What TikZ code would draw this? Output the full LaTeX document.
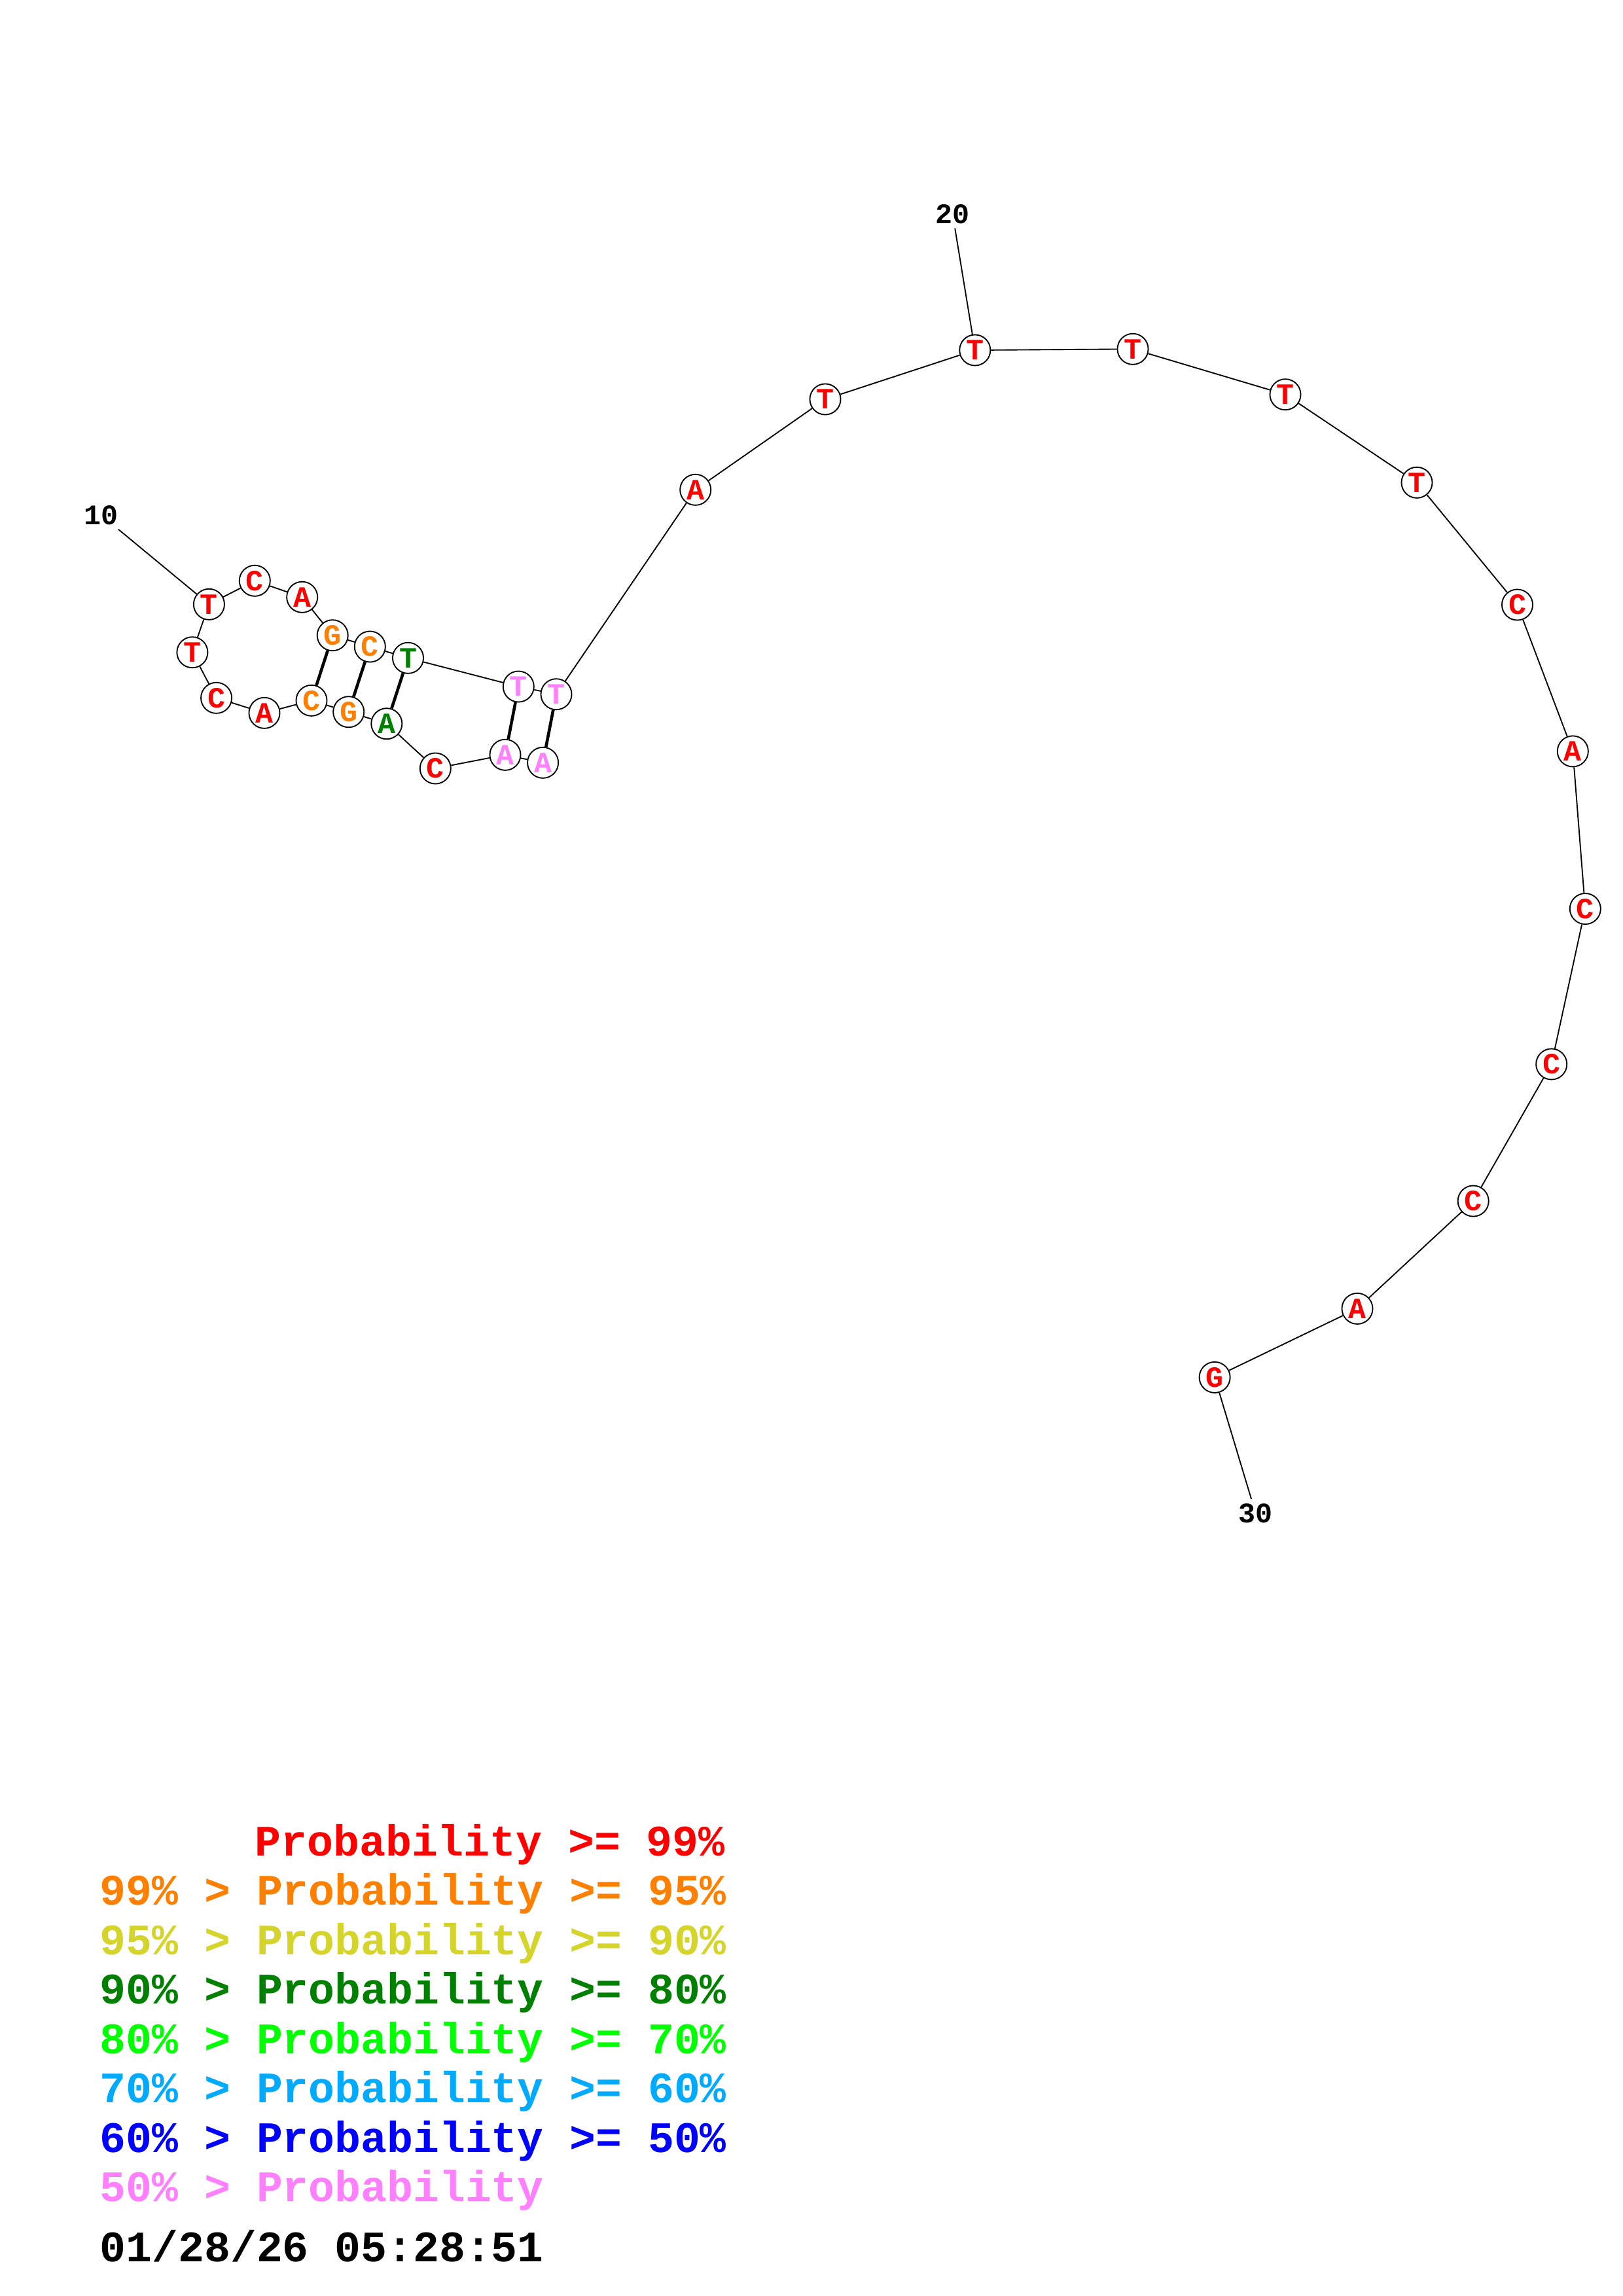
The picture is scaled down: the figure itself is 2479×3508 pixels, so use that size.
\documentclass[tikz,border=0pt]{standalone}
\usepackage{fontspec}
\setmonofont{Liberation Mono}
\usetikzlibrary{positioning}
\usepackage{xcolor}
\definecolor{probA}{RGB}{255, 0, 0}
\definecolor{probB}{RGB}{255, 128, 0}
\definecolor{probC}{RGB}{212, 212, 42}
\definecolor{probD}{RGB}{0, 128, 0}
\definecolor{probE}{RGB}{0, 255, 0}
\definecolor{probF}{RGB}{0, 170, 255}
\definecolor{probG}{RGB}{0, 0, 255}
\definecolor{probH}{RGB}{255, 128, 255}

\begin{document}
\begin{tikzpicture}[x=0.24bp, y=-0.24bp,
  base/.style={draw, circle, fill=white, line width=0.45bp, minimum size=11.3bp, inner sep=0pt, font=\fontsize{10.8bp}{10.8bp}\ttfamily\bfseries},
  hi/.style={base, text=probA},
  mid/.style={base, text=probB},
  fair/.style={base, text=probD},
  low/.style={base, text=probH},
  numlab/.style={inner sep=1.5bp, font=\fontsize{10.4bp}{12bp}\ttfamily\bfseries},
  legend/.style={anchor=base west, inner sep=0pt, font=\fontsize{15.95bp}{18bp}\ttfamily\bfseries},
  bond/.style={line width=0.45bp},
  pair/.style={line width=1.1bp}]
\fill[white] (0,0) rectangle (2479,3508);
\useasboundingbox (0,0) rectangle (2479,3508);

% hairpin on the left
\node[low]  (n1)  at (829.6, 1165.3) {A};
\node[low]  (n2)  at (772.0, 1153.3) {A};
\node[hi]   (n3)  at (665.3, 1174.0) {C};
\node[fair] (n4)  at (590.8, 1105.7) {A};
\node[mid]  (n5)  at (532.7, 1087.7) {G};
\node[mid]  (n6)  at (476.0, 1070.3) {C};
\node[hi]   (n7)  at (404.0, 1089.3) {A};
\node[hi]   (n8)  at (330.6, 1066.3) {C};
\node[hi]   (n9)  at (293.9, 996.7) {T};
\node[hi]   (n10) at (319.4, 923.3) {T};
\node[hi]   (n11) at (389.3, 887.3) {C};
\node[hi]   (n12) at (461.7, 912.3) {A};
\node[mid]  (n13) at (508.2, 970.7) {G};
\node[mid]  (n14) at (565.3, 988.0) {C};
\node[fair] (n15) at (623.5, 1005.3) {T};
\node[low]  (n16) at (792.3, 1049.0) {T};
\node[low]  (n17) at (850.0, 1060.7) {T};
% open arc
\node[hi] (n18) at (1062.7, 748.3) {A};
\node[hi] (n19) at (1261.0, 610.0) {T};
\node[hi] (n20) at (1489.8, 535.0) {T};
\node[hi] (n21) at (1731.0, 533.3) {T};
\node[hi] (n22) at (1964.0, 602.7) {T};
\node[hi] (n23) at (2165.0, 737.3) {T};
\node[hi] (n24) at (2318.5, 924.0) {C};
\node[hi] (n25) at (2403.3, 1147.9) {A};
\node[hi] (n26) at (2422.3, 1388.5) {C};
\node[hi] (n27) at (2370.7, 1625.9) {C};
\node[hi] (n28) at (2251.2, 1835.0) {C};
\node[hi] (n29) at (2074.0, 1999.4) {A};
\node[hi] (n30) at (1856.1, 2104.4) {G};

\node[numlab] (lab10) at (154.6, 787.0) {10};
\node[numlab] (lab20) at (1455.6, 327.0) {20};
\node[numlab] (lab30) at (1918.6, 2312.0) {30};

\draw[bond] (n1) -- (n2) -- (n3) -- (n4) -- (n5) -- (n6) -- (n7) -- (n8) -- (n9) -- (n10)
  -- (n11) -- (n12) -- (n13) -- (n14) -- (n15) -- (n16) -- (n17) -- (n18) -- (n19) -- (n20)
  -- (n21) -- (n22) -- (n23) -- (n24) -- (n25) -- (n26) -- (n27) -- (n28) -- (n29) -- (n30);
\draw[pair] (n13) -- (n6);
\draw[pair] (n14) -- (n5);
\draw[pair] (n15) -- (n4);
\draw[pair] (n16) -- (n2);
\draw[pair] (n17) -- (n1);
\draw[bond] (lab10) -- (n10);
\draw[bond] (lab20) -- (n20);
\draw[bond] (lab30) -- (n30);

% legend
\node[legend, text=probA] (leg1) at (389, 2835) {Probability >= 99\%};
\node[legend, text=probB] (leg2) at (152, 2910.5) {99\% > Probability >= 95\%};
\node[legend, text=probC] (leg3) at (152, 2986) {95\% > Probability >= 90\%};
\node[legend, text=probD] (leg4) at (152, 3061.5) {90\% > Probability >= 80\%};
\node[legend, text=probE] (leg5) at (152, 3137) {80\% > Probability >= 70\%};
\node[legend, text=probF] (leg6) at (152, 3212.5) {70\% > Probability >= 60\%};
\node[legend, text=probG] (leg7) at (152, 3288) {60\% > Probability >= 50\%};
\node[legend, text=probH] (leg8) at (152, 3363.5) {50\% > Probability};
\node[legend] (stamp) at (152, 3455) {01/28/26 05:28:51};
\end{tikzpicture}
\end{document}
